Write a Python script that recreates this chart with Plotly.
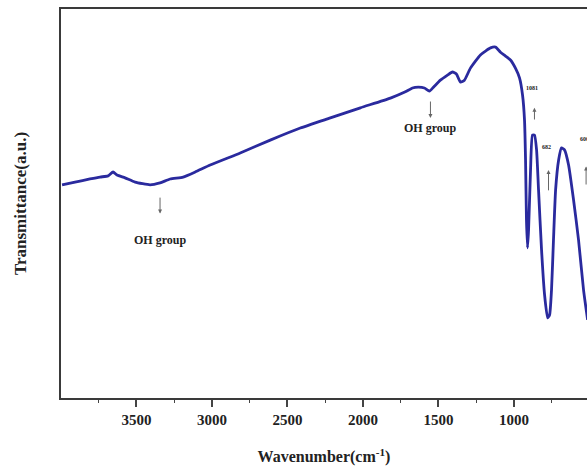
import plotly.graph_objects as go

# Wavenumber (cm^-1) and transmittance (a.u.)
wavenumber = [3993, 3907, 3808, 3741, 3688, 3655, 3629, 3576, 3509, 3410, 3344, 3277,
              3191, 3111, 3012, 2813, 2614, 2415, 2216, 2017, 1818, 1719, 1672, 1633,
              1593, 1560, 1533, 1487, 1440, 1407, 1381, 1354, 1328, 1288, 1222, 1155,
              1122, 1089, 1056, 1023, 990, 963, 943, 930, 923, 917, 910, 903, 890, 877,
              864, 850, 837, 817, 797, 777, 764, 751, 738, 724, 704, 685, 665, 638, 605,
              572, 539, 512]
transmittance = [54.8, 55.5, 56.3, 56.8, 57.1, 58.1, 57.3, 56.6, 55.5, 54.8, 55.3, 56.3,
                 56.8, 58.1, 59.9, 63.0, 66.3, 69.4, 72.0, 74.6, 77.1, 78.7, 79.7, 79.9,
                 79.7, 78.9, 79.9, 81.7, 83.0, 83.8, 83.3, 81.2, 81.7, 84.8, 88.2, 90.0,
                 90.2, 88.9, 87.9, 86.9, 84.8, 82.3, 77.9, 71.5, 61.2, 45.8, 38.6, 43.2,
                 58.6, 67.6, 67.6, 63.8, 53.5, 38.0, 26.5, 20.6, 21.3, 27.8, 40.6, 53.5,
                 61.2, 64.3, 63.8, 59.9, 50.9, 40.6, 27.8, 20.1]

x_ticks = [3500, 3000, 2500, 2000, 1500, 1000]
x_tick_labels = ["3500", "3000", "2500", "2000", "1500", "1000"]

# annotations: (text, x, y, arrow head x, arrow head y, arrow tail x, arrow tail y)
notes = [
    ("OH group", 3344, 40.6, 3344, 47.4, 3344, 51.9),
    ("OH group", 1553, 69.4, 1553, 72.0, 1553, 76.6),
    ("1081", 880, 79.7, 864, 74.6, 864, 71.2),
    ("682", 782, 64.5, 771, 58.6, 771, 53.0),
]

FONT = "Liberation Serif"
fig = go.Figure()
fig.add_trace(go.Scatter(x=wavenumber, y=transmittance, mode="lines",
                         line=dict(color="#2a2a9e", width=2.8, shape="spline", smoothing=0.5),
                         showlegend=False))

for t, tx, ty, hx, hy, sx, sy in notes:
    small = t != "OH group"
    fig.add_annotation(x=tx, y=ty, text="<b>%s</b>" % t, showarrow=False,
                       font=dict(family=FONT, size=6 if small else 12, color="#222"))
    fig.add_annotation(x=hx, y=hy, ax=sx, ay=sy, xref="x", yref="y", axref="x", ayref="y",
                       text="", showarrow=True, arrowhead=2, arrowsize=0.8,
                       arrowwidth=1, arrowcolor="#666")

fig.add_annotation(x=577, y=66.5, text="<b>600</b>", showarrow=False, xanchor="left",
                   font=dict(family=FONT, size=6, color="#222"))
fig.add_annotation(x=522, y=59.5, ax=522, ay=54.5, xref="x", yref="y", axref="x", ayref="y",
                   text="", showarrow=True, arrowhead=2, arrowsize=0.8,
                   arrowwidth=1, arrowcolor="#666")

fig.update_layout(
    width=587, height=473,
    margin=dict(l=61, r=0, t=9, b=75),
    paper_bgcolor="white", plot_bgcolor="white",
    font=dict(family=FONT, color="#222"),
    xaxis=dict(range=[4000, 516], showgrid=False, zeroline=False,
               showline=True, mirror=True, linecolor="#3a3a3a", linewidth=2.2,
               ticks="outside", ticklen=7, tickwidth=1.5, tickcolor="#444",
               tickvals=x_ticks, ticktext=["<b>%s</b>" % s for s in x_tick_labels],
               tickfont=dict(family=FONT, size=15, color="#222"),
               minor=dict(tickvals=[3750, 3250, 2750, 2250, 1750, 1250, 750],
                          ticks="outside", ticklen=3, tickcolor="#444", tickwidth=1.2),
               title=dict(text="<b>Wavenumber(cm<sup>-1</sup>)</b>",
                          font=dict(family=FONT, size=16, color="#222"), standoff=24)),
    yaxis=dict(range=[0, 100], showgrid=False, zeroline=False, showticklabels=False,
               showline=True, mirror=False, linecolor="#3a3a3a", linewidth=2.2, ticks="",
               title=dict(text="<b>Transmittance(a.u.)</b>",
                          font=dict(family=FONT, size=17, color="#222"), standoff=28)),
)

fig.write_html("out.html")
